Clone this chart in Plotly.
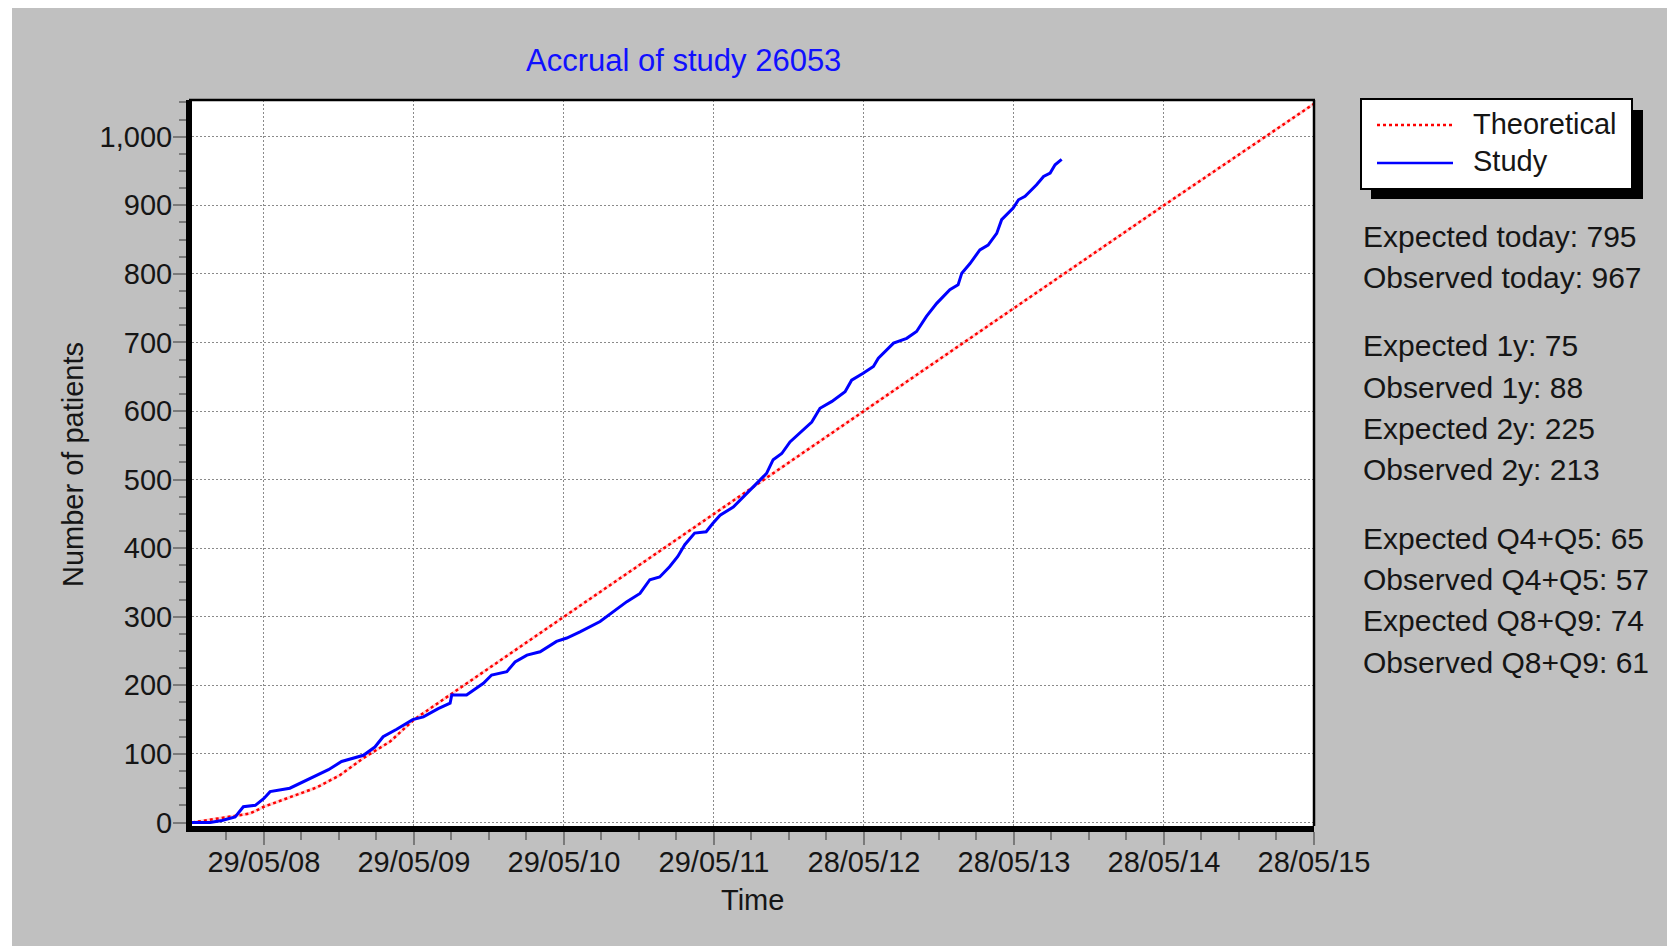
import plotly.graph_objects as go
import pandas as pd

# ---------------- data ----------------
title_text = "Accrual of study 26053"
x_title = "Time"
y_title = "Number of patients"

theo_name = "Theoretical"
theo_dates = ["2007-12-06", "2008-04-25", "2008-05-29", "2008-07-31", "2008-10-04",
              "2008-11-30", "2009-01-26", "2009-04-01", "2009-05-29", "2010-05-29",
              "2011-05-29", "2012-05-28", "2013-05-28", "2014-05-28", "2015-05-28"]
theo_values = [0, 13, 23, 37, 51, 69, 94, 118, 150, 300, 450, 600, 750, 900, 1048]

study_name = "Study"
study_dates = [
    "2007-12-06", "2008-01-19", "2008-02-17", "2008-03-20", "2008-04-09", "2008-05-08",
    "2008-05-29", "2008-06-13", "2008-07-31", "2008-09-26", "2008-11-02", "2008-12-04",
    "2009-01-26", "2009-02-23", "2009-03-15", "2009-04-17", "2009-05-26", "2009-06-21",
    "2009-07-15", "2009-07-27", "2009-08-25", "2009-08-29", "2009-10-04", "2009-11-14",
    "2009-12-04", "2010-01-10", "2010-01-30", "2010-02-28", "2010-04-01", "2010-05-11",
    "2010-06-05", "2010-07-07", "2010-08-25", "2010-09-26", "2010-10-29", "2010-11-30",
    "2010-12-24", "2011-01-17", "2011-02-10", "2011-03-02", "2011-03-19", "2011-04-12",
    "2011-05-10", "2011-05-26", "2011-06-13", "2011-07-15", "2011-08-17", "2011-09-10",
    "2011-10-04", "2011-10-20", "2011-11-10", "2011-11-30", "2011-12-24", "2012-01-22",
    "2012-02-11", "2012-03-11", "2012-04-12", "2012-04-28", "2012-05-26", "2012-06-20",
    "2012-07-02", "2012-07-22", "2012-08-08", "2012-09-09", "2012-10-03", "2012-10-27",
    "2012-11-21", "2012-12-23", "2013-01-12", "2013-01-21", "2013-02-10", "2013-03-06",
    "2013-03-26", "2013-04-16", "2013-04-28", "2013-05-26", "2013-06-08", "2013-06-24",
    "2013-07-22", "2013-08-08", "2013-08-24", "2013-09-05", "2013-09-21"]
study_values = [
    0, 0, 3, 8, 23, 25,
    35, 45, 50, 67, 77, 89,
    98, 110, 125, 136, 150, 154,
    162, 166, 174, 186, 186, 203,
    215, 220, 234, 244, 249, 264,
    269, 278, 293, 307, 322, 334,
    354, 358, 373, 388, 405, 422,
    424, 436, 448, 460, 480, 495,
    509, 529, 538, 555, 568, 584,
    604, 614, 628, 645, 655, 665,
    677, 689, 699, 706, 716, 738,
    757, 777, 784, 801, 815, 835,
    842, 859, 879, 896, 908, 913,
    930, 942, 947, 959, 967]

x_tick_dates = ["2008-05-29", "2009-05-29", "2010-05-29", "2011-05-29",
                "2012-05-28", "2013-05-28", "2014-05-28", "2015-05-28"]
x_tick_labels = ["29/05/08", "29/05/09", "29/05/10", "29/05/11",
                 "28/05/12", "28/05/13", "28/05/14", "28/05/15"]
x_range = ["2007-12-06", "2015-05-28"]
y_tick_values = [0, 100, 200, 300, 400, 500, 600, 700, 800, 900, 1000]
y_range = [-5.1, 1053.5]

stats_groups = [
    ["Expected today: 795", "Observed today: 967"],
    ["Expected 1y: 75", "Observed 1y: 88", "Expected 2y: 225", "Observed 2y: 213"],
    ["Expected Q4+Q5: 65", "Observed Q4+Q5: 57", "Expected Q8+Q9: 74", "Observed Q8+Q9: 61"],
]

# ---------------- layout geometry (screen pixels) ----------------
SCREEN_W, SCREEN_H = 1675, 946
BODY = 8                       # default page margin around the figure
W, H = SCREEN_W - BODY, SCREEN_H - BODY
L, R, T, B = 192, 1314, 100, 826
FONT = "Liberation Sans, Arial, sans-serif"
GRAY_BG = "#c0c0c0"
TXT = "#151515"


def px(x):
    return (x - L) / (R - L)


def py(y):
    return (B - y) / (B - T)


# minor (quarterly) ticks for the x axis, derived from the major ticks
major = pd.to_datetime(x_tick_dates)
minor_x = []
for d in [major[0] - pd.Timedelta(days=365)] + list(major):
    for k in (1, 2, 3):
        m = d + pd.Timedelta(days=365 * k / 4)
        if pd.Timestamp(x_range[0]) <= m <= pd.Timestamp(x_range[1]):
            minor_x.append(m.strftime("%Y-%m-%d"))
minor_y = list(range(0, 1051, 25))

fig = go.Figure()

# theoretical: faint pink underline + red dotted
fig.add_trace(go.Scatter(
    x=theo_dates, y=theo_values, mode="lines", name=theo_name,
    line=dict(color="rgba(255,80,80,0.25)", width=3), showlegend=False, hoverinfo="skip"))
fig.add_trace(go.Scatter(
    x=theo_dates, y=theo_values, mode="lines", name=theo_name,
    line=dict(color="#ff0000", width=2.5, dash="dot"), showlegend=False))

fig.add_trace(go.Scatter(
    x=study_dates, y=study_values, mode="lines", name=study_name,
    line=dict(color="#0000ff", width=3), showlegend=False))

tickfont = dict(family=FONT, size=29, color=TXT)

fig.update_xaxes(
    type="date", range=x_range,
    tickmode="array", tickvals=x_tick_dates, ticktext=x_tick_labels,
    ticks="outside", ticklen=13, tickwidth=2, tickcolor="#7a7a7a",
    ticklabelstandoff=-8,
    showline=True, linecolor="black", linewidth=6,
    showgrid=True, gridcolor="#8a8a8a", gridwidth=1, griddash="2px,2px",
    zeroline=False, tickfont=tickfont,
    minor=dict(tickvals=minor_x, ticks="outside", ticklen=8, tickwidth=2,
               tickcolor="#7a7a7a", showgrid=False),
)
fig.update_yaxes(
    range=y_range, tickmode="array", tickvals=y_tick_values, tickformat=",d",
    ticks="outside", ticklen=13, tickwidth=2, tickcolor="#7a7a7a",
    ticklabelstandoff=-5,
    showline=True, linecolor="black", linewidth=6,
    showgrid=True, gridcolor="#8a8a8a", gridwidth=1, griddash="2px,2px",
    zeroline=False, tickfont=tickfont,
    minor=dict(tickvals=minor_y, ticks="outside", ticklen=7, tickwidth=2,
               tickcolor="#7a7a7a", showgrid=False),
)

shapes = [
    # thin white strip at the left of the screenshot
    dict(type="rect", xref="paper", yref="paper", x0=px(BODY), x1=px(12), y0=py(BODY), y1=py(SCREEN_H),
         fillcolor="white", line=dict(width=0), layer="above"),
    # top and right thin borders of the plot
    dict(type="line", xref="paper", yref="paper", x0=px(L - 3), x1=px(R + 1), y0=py(T), y1=py(T),
         line=dict(color="black", width=2.5), layer="above"),
    dict(type="line", xref="paper", yref="paper", x0=px(R), x1=px(R), y0=py(T), y1=py(B),
         line=dict(color="black", width=2.5), layer="above"),
    # legend shadow + box
    dict(type="rect", xref="paper", yref="paper", x0=px(1371), x1=px(1643), y0=py(110), y1=py(199),
         fillcolor="black", line=dict(width=0), layer="above"),
    dict(type="rect", xref="paper", yref="paper", x0=px(1361), x1=px(1632), y0=py(99), y1=py(189),
         fillcolor="white", line=dict(color="black", width=2), layer="above"),
    # legend samples
    dict(type="line", xref="paper", yref="paper", x0=px(1377), x1=px(1452), y0=py(125), y1=py(125),
         line=dict(color="#ff0000", width=2.5, dash="dot"), layer="above"),
    dict(type="line", xref="paper", yref="paper", x0=px(1377), x1=px(1453), y0=py(163), y1=py(163),
         line=dict(color="#0000ff", width=2.5), layer="above"),
]

annotations = [
    dict(text=title_text, x=px(683), y=py(60), xref="paper", yref="paper",
         xanchor="center", yanchor="middle", showarrow=False,
         font=dict(family=FONT, size=31, color="#1010ff")),
    dict(text=x_title, x=px(752), y=py(900), xref="paper", yref="paper",
         xanchor="center", yanchor="middle", showarrow=False,
         font=dict(family=FONT, size=29, color=TXT)),
    dict(text=y_title, x=px(73), y=py(465), xref="paper", yref="paper",
         xanchor="center", yanchor="middle", showarrow=False, textangle=-90,
         font=dict(family=FONT, size=29, color=TXT)),
    dict(text=theo_name, x=px(1471), y=py(124), xref="paper", yref="paper",
         xanchor="left", yanchor="middle", showarrow=False,
         font=dict(family=FONT, size=29, color=TXT)),
    dict(text=study_name, x=px(1471), y=py(161), xref="paper", yref="paper",
         xanchor="left", yanchor="middle", showarrow=False,
         font=dict(family=FONT, size=29, color=TXT)),
]

y0_px = 236
line_gap = 41.3
group_gap = 68.5
ycur = y0_px
for g in stats_groups:
    for i, s in enumerate(g):
        annotations.append(dict(
            text=s, x=px(1361), y=py(ycur), xref="paper", yref="paper",
            xanchor="left", yanchor="middle", showarrow=False,
            font=dict(family=FONT, size=30, color=TXT)))
        if i < len(g) - 1:
            ycur += line_gap
    ycur += group_gap

fig.update_layout(
    width=W, height=H, autosize=False,
    margin=dict(l=L - BODY, r=SCREEN_W - R, t=T - BODY, b=SCREEN_H - B, pad=0),
    paper_bgcolor=GRAY_BG, plot_bgcolor="white",
    showlegend=False,
    shapes=shapes, annotations=annotations,
    font=dict(family=FONT, color=TXT),
)

fig.write_html("out.html")
